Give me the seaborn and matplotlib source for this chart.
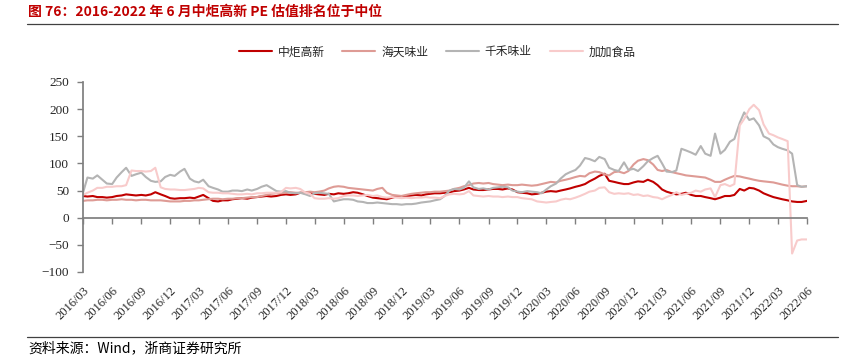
import pandas as pd
import matplotlib
matplotlib.use("Agg")
import matplotlib.pyplot as plt
import matplotlib.dates as mdates
from matplotlib.lines import Line2D
import seaborn as sns

# PE readings every half month, 2016/03 - 2022/06
dates = pd.date_range("2016-03-01", "2022-06-01", freq="SMS")

zjgx = [40, 39, 40, 38, 38, 37, 38, 40, 41, 43, 42, 41,
        42, 41, 43, 47, 43, 40, 36, 35, 36, 36, 37, 36,
        39, 42, 36, 31, 30, 32, 32, 34, 35, 36, 35, 37,
        38, 39, 40, 39, 40, 42, 43, 42, 43, 46, 45, 46,
        44, 43, 42, 44, 43, 45, 44, 45, 47, 46, 43, 40,
        37, 36, 35, 34, 37, 39, 40, 40, 41, 42, 41, 43,
        44, 45, 45, 46, 47, 49, 50, 52, 55, 52, 51, 51,
        52, 53, 53, 52, 54, 52, 47, 46, 45, 43, 44, 46,
        48, 49, 48, 50, 52, 54, 57, 59, 62, 67, 72, 77,
        81, 68, 66, 64, 62, 62, 65, 67, 66, 70, 66, 60,
        52, 48, 45, 43, 44, 46, 42, 40, 40, 38, 36, 34,
        37, 40, 40, 42, 53, 50, 55, 54, 50, 45, 41, 38,
        36, 34, 32, 30, 29, 29, 31]

htwy = [31, 32, 32, 33, 33, 32, 33, 33, 34, 33, 33, 32,
        33, 33, 32, 32, 32, 31, 30, 30, 30, 31, 31, 32,
        32, 33, 34, 35, 35, 34, 35, 35, 36, 36, 37, 38,
        38, 40, 42, 44, 45, 45, 46, 47, 46, 46, 47, 48,
        47, 48, 50, 54, 57, 58, 57, 55, 54, 53, 52, 51,
        50, 53, 55, 46, 42, 41, 40, 42, 44, 45, 46, 47,
        47, 48, 48, 49, 50, 53, 55, 58, 60, 63, 64, 63,
        64, 62, 61, 60, 61, 60, 60, 61, 60, 59, 60, 62,
        64, 66, 65, 68, 70, 72, 75, 77, 76, 82, 85, 84,
        80, 78, 84, 85, 82, 86, 98, 105, 108, 106, 98, 88,
        86, 88, 84, 82, 80, 78, 77, 76, 75, 74, 70, 66,
        66, 70, 74, 77, 76, 74, 72, 70, 68, 67, 66, 65,
        63, 61, 59, 58, 58, 57, 58]

qhwy = [46, 74, 72, 78, 70, 63, 62, 74, 84, 92, 77, 80,
        83, 75, 68, 66, 67, 75, 79, 77, 85, 90, 72, 67,
        65, 70, 58, 55, 52, 48, 48, 50, 50, 49, 52, 50,
        53, 57, 60, 55, 49, 48, 49, 46, 45, 46, 43, 40,
        45, 46, 45, 44, 30, 32, 34, 34, 33, 30, 29, 27,
        27, 28, 27, 26, 25, 25, 24, 25, 25, 26, 28, 29,
        30, 32, 34, 40, 50, 53, 52, 55, 67, 56, 53, 54,
        52, 55, 56, 57, 56, 50, 48, 47, 49, 48, 47, 45,
        52, 58, 63, 72, 80, 84, 88, 96, 110, 108, 104, 112,
        108, 92, 88, 86, 102, 88, 90, 86, 95, 104, 110, 114,
        100, 85, 84, 87, 127, 124, 120, 116, 132, 118, 114, 155,
        118, 125, 140, 145, 175, 194, 180, 183, 170, 150, 145, 135,
        130, 127, 124, 118, 60, 57, 58]

jjsp = [42, 46, 50, 55, 55, 57, 57, 58, 58, 60, 87, 86,
        86, 85, 86, 92, 56, 53, 52, 52, 51, 51, 52, 53,
        55, 54, 47, 46, 46, 45, 45, 44, 43, 43, 44, 43,
        45, 45, 46, 46, 46, 47, 55, 54, 55, 53, 46, 44,
        36, 35, 35, 36, 35, 36, 40, 41, 41, 40, 41, 42,
        40, 41, 38, 37, 38, 37, 36, 37, 36, 37, 37, 38,
        37, 37, 36, 40, 43, 44, 43, 44, 49, 41, 40, 39,
        40, 39, 39, 38, 39, 38, 38, 36, 35, 34, 30, 29,
        28, 29, 30, 33, 35, 34, 37, 40, 44, 48, 50, 55,
        56, 47, 44, 45, 44, 45, 42, 43, 40, 41, 38, 37,
        34, 38, 42, 47, 42, 44, 46, 50, 48, 52, 54, 38,
        60, 62, 58, 62, 170, 182, 200, 208, 198, 172, 155, 152,
        148, 145, 141, -66, -42, -40, -40]

names = ["中炬高新", "海天味业", "千禾味业", "加加食品"]
colors = ["#C00000", "#DE9B95", "#B4B4B4", "#F8CBCB"]

tick_dates = pd.date_range("2016-03-01", "2022-06-01", freq="QS-MAR")
tick_labels = list(tick_dates.strftime("%Y/%m"))

df = pd.concat([pd.DataFrame({"date": dates, "pe": v, "name": n})
                for n, v in zip(names, [zjgx, htwy, qhwy, jjsp])])

sns.set_theme(style="white")
plt.rcParams["font.family"] = ["Noto Sans CJK SC", "DejaVu Sans"]
cjk = ["Noto Sans CJK SC", "DejaVu Sans"]
serif = "Liberation Serif"
gray = "#7F7F7F"

fig = plt.figure(figsize=(8.51, 3.55), dpi=100)
ax = fig.add_axes([83 / 851, 1 - 272 / 355, 724 / 851, 190 / 355])

sns.lineplot(data=df, x="date", y="pe", hue="name", hue_order=names,
             palette=colors, linewidth=1.5, ax=ax, legend=True)

ax.set_ylim(-100, 250)
ax.set_yticks(range(-100, 251, 50))
ax.set_xlim(dates[0], dates[-1])
ax.set_xlabel("")
ax.set_ylabel("")

for s in ["top", "right"]:
    ax.spines[s].set_visible(False)
ax.spines["left"].set_color(gray)
ax.spines["bottom"].set_color(gray)
ax.spines["bottom"].set_position(("data", 0))

ax.set_xticks(tick_dates)
ax.set_xticklabels([])
ax.tick_params(axis="x", bottom=True, direction="out", length=4, width=1, color=gray)
ax.tick_params(axis="y", left=True, direction="out", length=4, width=1, color=gray,
               labelsize=9.5, pad=6)
for lbl in ax.get_yticklabels():
    lbl.set_fontfamily(serif)

# date labels sit under the plot, ticks stay on the zero line
sec = ax.secondary_xaxis("bottom")
sec.set_xticks(mdates.date2num(tick_dates), labels=tick_labels)
sec.tick_params(length=0, pad=9, labelsize=9)
sec.spines["bottom"].set_visible(False)
for lbl in sec.get_xticklabels():
    lbl.set_rotation(45)
    lbl.set_ha("right")
    lbl.set_va("top")
    lbl.set_rotation_mode("anchor")
    lbl.set_fontfamily(serif)

handles, labels = ax.get_legend_handles_labels()
ax.get_legend().remove()
fig.legend(handles, labels, loc="center", bbox_to_anchor=(437 / 851, 1 - 52 / 355),
           ncol=4, frameon=False, handlelength=2.8, handletextpad=0.5,
           columnspacing=1.5, prop={"family": cjk, "size": 8.5})

fig.text(28 / 851, 1 - 12 / 355, "图 76：2016-2022 年 6 月中炬高新 PE 估值排名位于中位",
         ha="left", va="center", fontsize=10, fontweight="bold", color="#C00000",
         family=cjk)
fig.add_artist(Line2D([27 / 851, 838 / 851], [1 - 24 / 355, 1 - 24 / 355],
                      transform=fig.transFigure, color="#404040", lw=0.9))
fig.add_artist(Line2D([27 / 851, 838 / 851], [1 - 337 / 355, 1 - 337 / 355],
                      transform=fig.transFigure, color="#404040", lw=0.9))
fig.text(28 / 851, 1 - 348 / 355, "资料来源：Wind，浙商证券研究所",
         ha="left", va="center", fontsize=10, color="black", family=cjk)

fig.savefig("out.png", dpi=100)
